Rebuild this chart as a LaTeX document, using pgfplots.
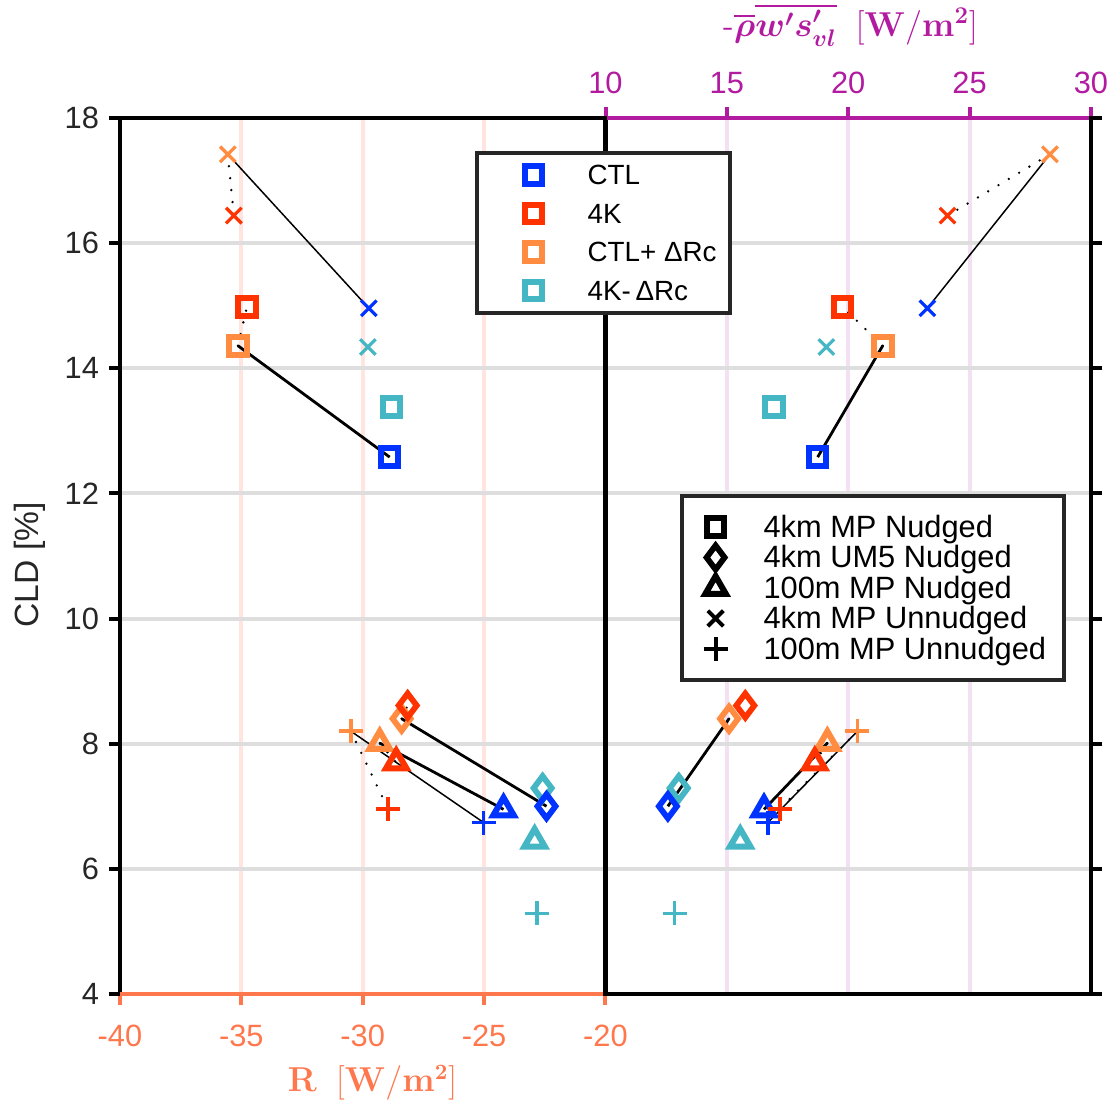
\documentclass[border=0pt]{standalone}
\usepackage{amsmath}
\usepackage[no-math]{fontspec}
\setmainfont{Liberation Sans}
\usepackage{pgfplots}
\usepackage{pgfplotstable}
\pgfplotsset{compat=1.18}

\definecolor{ctl}{RGB}{0,51,255}
\definecolor{fourk}{RGB}{255,51,0}
\definecolor{ctlp}{RGB}{255,140,64}
\definecolor{fourkm}{RGB}{68,182,196}
\definecolor{axR}{RGB}{255,119,77}
\definecolor{axF}{RGB}{178,26,160}
\definecolor{gridG}{RGB}{222,222,222}
\definecolor{gridR}{RGB}{255,228,224}
\definecolor{gridF}{RGB}{243,224,243}
\definecolor{tickG}{RGB}{38,38,38}

% rows: CTL, CTL+dRc, 4K, 4K-dRc ; R = radiative term, F = flux term
\pgfplotstableread{
R      F      CLD
-28.89 18.74 12.58
-35.14 21.42 14.36
-34.77 19.77 14.98
-28.81 16.93 13.38
}\tabSq
\pgfplotstableread{
R      F      CLD
-22.43 12.57 7.00
-28.40 15.09 8.40
-28.15 15.76 8.61
-22.59 13.02 7.29
}\tabDm
\pgfplotstableread{
R      F      CLD
-24.20 16.53 6.95
-29.30 19.14 8.01
-28.62 18.62 7.70
-22.92 15.55 6.45
}\tabTr
\pgfplotstableread{
R      F      CLD
-29.75 23.26 14.96
-35.56 28.31 17.42
-35.31 24.09 16.44
-29.79 19.10 14.34
}\tabX
\pgfplotstableread{
R      F      CLD
-25.02 16.69 6.74
-30.49 20.38 8.20
-28.96 17.18 6.96
-22.83 12.85 5.29
}\tabP

\tikzset{
  msq/.style={mark=square, mark size=4.4pt, mark options={line width=3pt, solid, line join=miter}},
  mdm/.style={mark=diamond, mark size=6pt, mark options={line width=2.9pt, solid, line join=miter}},
  mtr/.style={mark=triangle, mark size=5.9pt, mark options={line width=3pt, solid, line join=miter}},
  mx/.style={mark=x, mark size=5.5pt, mark options={line width=1.6pt, solid}},
  mp/.style={mark=+, mark size=6pt, mark options={line width=1.75pt, solid}},
  dotlink/.style={black, line width=1.3pt, line cap=round, dash pattern=on 0pt off 6pt},
}

\pgfplotsset{
  base/.style={
    scale only axis, width=242.75pt, height=438pt,
    ymin=4, ymax=18, ytick={4,6,...,18},
    grid=major,
    y grid style={gridG, line width=2pt},
    axis line style={black, line width=2pt},
    tick align=outside, major tick length=5.5pt,
    tick style={line width=2pt},
    ytick style={black},
    /pgf/number format/assume math mode=true,
    ticklabel style={font=\fontsize{15.4}{18}\selectfont},
    yticklabel style={text=tickG, xshift=-1.5pt},
    legend cell align=left,
  },
  row0/.style={skip coords between index={1}{4}},
  row1/.style={skip coords between index={0}{1}, skip coords between index={2}{4}},
  row2/.style={skip coords between index={0}{2}, skip coords between index={3}{4}},
  row3/.style={skip coords between index={0}{3}},
  seg01/.style={skip coords between index={2}{4}},
  seg12/.style={skip coords between index={0}{1}, skip coords between index={3}{4}},
}

% one marker type in the four colours (#1 table, #2 mark, #3 x column)
\newcommand{\markset}[3]{%
  \addplot[only marks, #2, fourkm, row3, forget plot] table[x=#3, y=CLD] {#1};
  \addplot[only marks, #2, ctl, row0, forget plot] table[x=#3, y=CLD] {#1};
  \addplot[only marks, #2, ctlp, row1, forget plot] table[x=#3, y=CLD] {#1};
  \addplot[only marks, #2, fourk, row2, forget plot] table[x=#3, y=CLD] {#1};
}
% solid link CTL -- CTL+dRc, dotted link CTL+dRc -- 4K
\newcommand{\linkset}[3]{%
  \addplot[black, line width=#2, no marks, seg01, forget plot] table[x=#3, y=CLD] {#1};
  \addplot[dotlink, no marks, seg12, forget plot] table[x=#3, y=CLD] {#1};
}

\begin{document}
\begin{tikzpicture}
% ---------------- right half: turbulent flux ----------------
\begin{axis}[
  base, name=Rax, at={(242.75pt,0pt)}, anchor=south west,
  xmin=10, xmax=30, xtick={10,15,20,25,30},
  xtick pos=right, xticklabel pos=right,
  ytick pos=right, yticklabels={},
  x grid style={gridF, line width=2pt},
  xtick style={axF},
  xticklabel style={text=axF, yshift=3pt},
  xlabel={\textsf{-}$\boldsymbol{\overline{\rho}\overline{w's'_{vl}}}\;\;[\mathbf{W}/\mathbf{m^2}]$},
  xlabel style={at={(axis description cs:0.505,1.1062)}, anchor=center, text=axF,
    font=\fontsize{16.8}{19}\selectfont},
  legend image code/.code={%
    \path[draw=none, fill=none, use as bounding box] (0pt,-4pt) rectangle (32pt,4pt);
    \draw[#1] plot coordinates {(8pt,0pt)};
  },
  legend style={
    at={(0.1526,0.5708)}, anchor=north west,
    draw=tickG, line width=2pt, fill=white,
    inner xsep=9pt, inner ysep=9.75pt, row sep=3.75pt,
    font=\fontsize{15.4}{18}\selectfont,
    nodes={inner sep=0pt, text height=11pt, text depth=0.5pt},
  },
]
\addlegendimage{msq, black, only marks}\addlegendentry{4km MP Nudged}
\addlegendimage{mdm, black, only marks}\addlegendentry{4km UM5 Nudged}
\addlegendimage{mtr, black, only marks}\addlegendentry{100m MP Nudged}
\addlegendimage{mx, black, only marks, mark options={line width=2pt}}\addlegendentry{4km MP Unnudged}
\addlegendimage{mp, black, only marks, mark options={line width=2pt}}\addlegendentry{100m MP Unnudged}

\markset{\tabSq}{msq}{F}
\markset{\tabDm}{mdm}{F}
\markset{\tabTr}{mtr}{F}
\markset{\tabX}{mx}{F}
\markset{\tabP}{mp}{F}
\linkset{\tabSq}{1.4pt}{F}
\linkset{\tabDm}{1.4pt}{F}
\linkset{\tabTr}{1.4pt}{F}
\linkset{\tabX}{0.75pt}{F}
\linkset{\tabP}{0.75pt}{F}
\end{axis}
\draw[axF, line width=2pt] (Rax.north west) -- ([xshift=-1pt]Rax.north east);

% ---------------- left half: radiative term ----------------
\begin{axis}[
  base, name=Lax, at={(0pt,0pt)}, anchor=south west,
  xmin=-40, xmax=-20, xtick={-40,-35,...,-20},
  xtick pos=left, xticklabel pos=left, ytick pos=left,
  x grid style={gridR, line width=2pt},
  xtick style={axR},
  xticklabel style={text=axR, yshift=-6.5pt},
  xlabel={$\mathbf{R}\;\;[\mathbf{W}/\mathbf{m^2}]$},
  xlabel style={at={(axis description cs:0.52,-0.1016)}, anchor=center, text=axR,
    font=\fontsize{16}{19}\selectfont},
  ylabel={CLD [\%]},
  ylabel style={at={(axis description cs:-0.1852,0.49)}, anchor=center, text=tickG,
    font=\fontsize{16.8}{19}\selectfont},
  legend image code/.code={%
    \path[draw=none, fill=none, use as bounding box] (0pt,-4pt) rectangle (49pt,4pt);
    \draw[#1] plot coordinates {(22pt,0pt)};
  },
  legend style={
    at={(0.7305,0.9623)}, anchor=north west,
    draw=tickG, line width=2pt, fill=white,
    inner xsep=6.5pt, inner ysep=5.75pt, row sep=8.75pt,
    font=\fontsize{13.9}{16}\selectfont,
    nodes={inner sep=0pt, text height=10pt, text depth=0.5pt},
  },
]
\addlegendimage{msq, ctl, only marks}\addlegendentry{CTL}
\addlegendimage{msq, fourk, only marks}\addlegendentry{4K}
\addlegendimage{msq, ctlp, only marks}\addlegendentry{CTL+ ΔRc}
\addlegendimage{msq, fourkm, only marks}\addlegendentry{4K-\,ΔRc}

\markset{\tabSq}{msq}{R}
\markset{\tabDm}{mdm}{R}
\markset{\tabTr}{mtr}{R}
\markset{\tabX}{mx}{R}
\markset{\tabP}{mp}{R}
\linkset{\tabSq}{1.4pt}{R}
\linkset{\tabDm}{1.4pt}{R}
\linkset{\tabTr}{1.4pt}{R}
\linkset{\tabX}{0.75pt}{R}
\linkset{\tabP}{0.75pt}{R}
\end{axis}
\draw[axR, line width=2pt] (Lax.south west) -- ([xshift=-1pt]Lax.south east);

\pgfresetboundingbox
\useasboundingbox (-60pt,-54.5pt) rectangle (498pt,497pt);
\end{tikzpicture}
\end{document}
